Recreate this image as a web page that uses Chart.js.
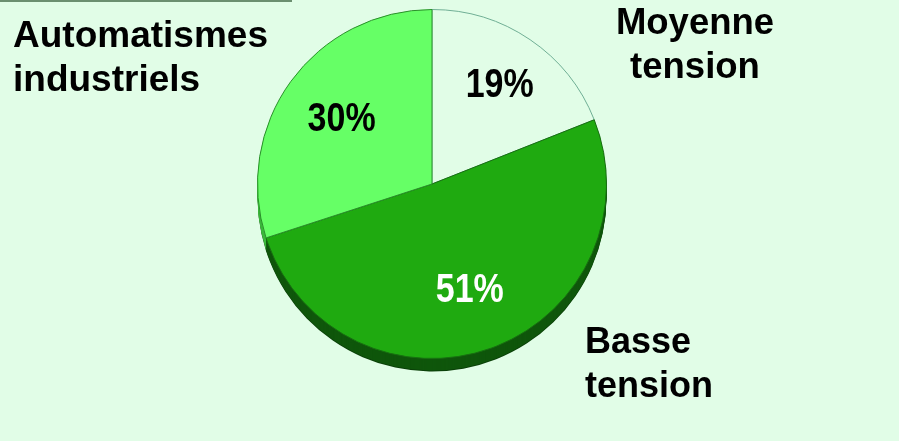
<!DOCTYPE html>
<html>
<head>
<meta charset="utf-8">
<script src="https://cdn.jsdelivr.net/npm/chart.js@4.4.1/dist/chart.umd.min.js"></script>
<style>
  html, body { margin: 0; padding: 0; background: #e1fde7; }
  #wrap { width: 899px; height: 441px; position: relative; }
</style>
</head>
<body>
<div id="wrap"><canvas id="pie"></canvas></div>
<script>
// Data
const categories = ['Moyenne tension', 'Basse tension', 'Automatismes industriels'];
const shares = [19, 51, 30];

const sliceColors = ['#e1fde7', '#1faa10', '#66ff66'];
const sliceBorders = ['#6fae94', '#176f10', '#2a8f2a'];
const sideColors = ['#9fcfae', '#0f560b', '#3cb83c'];
const pctColors = ['#000000', '#ffffff', '#000000'];

// where the category names sit (first-line baseline), alignment and size
const namePlaces = [
  { x: 695, y: 34, align: 'center', size: 36.5 },
  { x: 585, y: 353, align: 'left', size: 36 },
  { x: 13, y: 47, align: 'left', size: 37 }
];

const DEPTH = 13;

// thin rule at the top-left corner + 3D side of the pie
const pieSide = {
  id: 'pieSide',
  beforeDraw(chart) {
    const ctx = chart.ctx;
    ctx.save();
    ctx.fillStyle = '#6b8f70';
    ctx.fillRect(0, 0, 292, 2);
    ctx.restore();
  },
  beforeDatasetsDraw(chart) {
    const ctx = chart.ctx;
    const arcs = chart.getDatasetMeta(0).data;
    ctx.save();
    for (let d = DEPTH; d >= 1; d--) {
      arcs.forEach((arc, i) => {
        const p = arc.getProps(['x', 'y', 'startAngle', 'endAngle', 'outerRadius'], true);
        ctx.beginPath();
        ctx.moveTo(p.x, p.y + d);
        ctx.arc(p.x, p.y + d, p.outerRadius, p.startAngle, p.endAngle);
        ctx.closePath();
        ctx.fillStyle = d === DEPTH ? '#0a3f08' : sideColors[i];
        ctx.fill();
      });
    }
    ctx.restore();
  }
};

const pieText = {
  id: 'pieText',
  afterDatasetsDraw(chart) {
    const ctx = chart.ctx;
    const arcs = chart.getDatasetMeta(0).data;
    ctx.save();
    // percentages inside slices (narrow bold figures)
    arcs.forEach((arc, i) => {
      const p = arc.getProps(['x', 'y', 'startAngle', 'endAngle', 'outerRadius'], true);
      const mid = (p.startAngle + p.endAngle) / 2;
      const r = p.outerRadius * (i === 0 ? 0.69 : 0.64);
      const cx = p.x + Math.cos(mid) * r;
      const cy = p.y + Math.sin(mid) * r;
      ctx.save();
      ctx.translate(cx, cy);
      ctx.scale(0.85, 1);
      ctx.font = 'bold 40px "Liberation Sans", Arial, sans-serif';
      ctx.textAlign = 'center';
      ctx.textBaseline = 'middle';
      ctx.fillStyle = pctColors[i];
      ctx.fillText(shares[i] + '%', 0, 2);
      ctx.restore();
    });
    // category names outside
    ctx.fillStyle = '#000000';
    ctx.textBaseline = 'alphabetic';
    categories.forEach((name, i) => {
      const place = namePlaces[i];
      ctx.font = 'bold ' + place.size + 'px "Liberation Sans", Arial, sans-serif';
      ctx.textAlign = place.align;
      name.split(' ').forEach((line, k) => {
        ctx.fillText(line, place.x, place.y + k * 44);
      });
    });
    ctx.restore();
  }
};

new Chart(document.getElementById('pie'), {
  type: 'pie',
  data: {
    labels: categories,
    datasets: [{
      data: shares,
      backgroundColor: sliceColors,
      borderColor: sliceBorders,
      borderWidth: 1
    }]
  },
  options: {
    responsive: true,
    maintainAspectRatio: false,
    animation: false,
    layout: { padding: { top: 9, bottom: 82, left: 257, right: 292 } },
    plugins: {
      legend: { display: false },
      tooltip: { enabled: false }
    }
  },
  plugins: [pieSide, pieText]
});
</script>
</body>
</html>
